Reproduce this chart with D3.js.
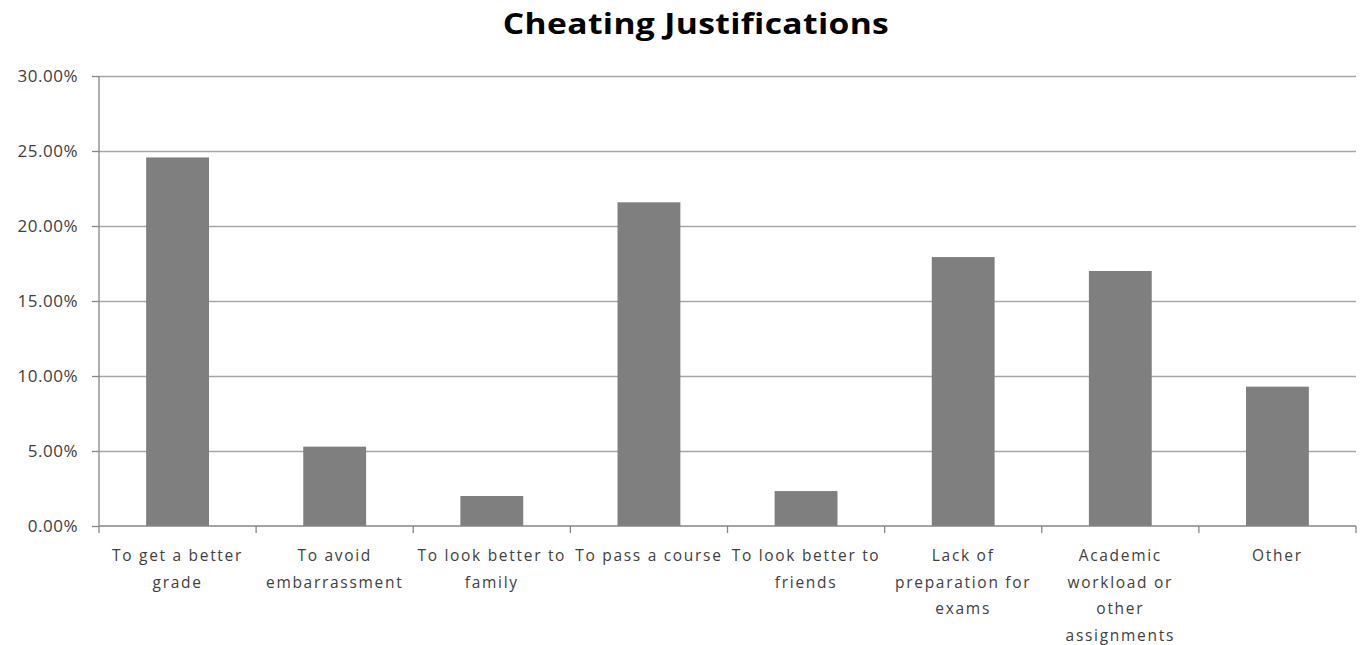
<!DOCTYPE html>
<html>
<head>
<meta charset="utf-8">
<script src="https://cdn.jsdelivr.net/npm/d3@7"></script>
<style>
  html, body { margin: 0; padding: 0; background: #fff; }
  svg { display: block; }
  .tick text { font-family: "Open Sans", sans-serif; }
</style>
</head>
<body>
<div id="chart"></div>
<script>
"use strict";

// ── data ─────────────────────────────────────────────────────────────────────
const categories = [
  "To get a better grade",
  "To avoid embarrassment",
  "To look better to family",
  "To pass a course",
  "To look better to friends",
  "Lack of preparation for exams",
  "Academic workload or other assignments",
  "Other",
];
const labelLines = [
  ["To get a better", "grade"],
  ["To avoid", "embarrassment"],
  ["To look better to", "family"],
  ["To pass a course"],
  ["To look better to", "friends"],
  ["Lack of", "preparation for", "exams"],
  ["Academic", "workload or", "other", "assignments"],
  ["Other"],
];
const values = [24.57, 5.29, 2.0, 21.58, 2.33, 17.93, 17.0, 9.29];
const yTicks = [0, 5, 10, 15, 20, 25, 30];

// ── layout ───────────────────────────────────────────────────────────────────
const W = 1363, H = 645;
const margin = { top: 76, right: 7, bottom: 119, left: 99 };
const iw = W - margin.left - margin.right;
const ih = H - margin.top - margin.bottom;

const svg = d3.select("#chart").append("svg")
  .attr("width", W).attr("height", H);

// title (source image is a bit stretched horizontally)
svg.append("text")
  .attr("transform", "translate(696,34) scale(1.2,1)")
  .attr("text-anchor", "middle")
  .attr("font-family", "'Open Sans', sans-serif")
  .attr("font-weight", 700)
  .attr("font-size", 28)
  .attr("letter-spacing", 0.3)
  .attr("fill", "#000")
  .text("Cheating Justifications");

const g = svg.append("g").attr("transform", `translate(${margin.left},${margin.top})`);

const x = d3.scaleBand().domain(categories).range([0, iw]).paddingInner(0.6).paddingOuter(0.3);
const y = d3.scaleLinear().domain([0, 30]).range([ih, 0]);

// gridlines
g.append("g")
  .call(d3.axisLeft(y).tickValues(yTicks.slice(1)).tickSize(-iw).tickFormat(""))
  .call(gg => {
    gg.select(".domain").remove();
    gg.selectAll("line").attr("stroke", "#a6a6a6").attr("stroke-width", 1.3);
  });

// bars
g.selectAll("rect.bar").data(values).enter().append("rect")
  .attr("class", "bar")
  .attr("x", (d, i) => x(categories[i]))
  .attr("y", d => y(d))
  .attr("width", x.bandwidth())
  .attr("height", d => ih - y(d))
  .attr("fill", "#7f7f7f");

// y axis
g.append("g")
  .call(d3.axisLeft(y).tickValues(yTicks).tickSize(7).tickPadding(14)
    .tickFormat(d => d.toFixed(2) + "%"))
  .call(ax => {
    ax.select(".domain").attr("stroke", "#868686").attr("stroke-width", 1.3)
      .attr("d", `M0,${ih}V0`);
    ax.selectAll(".tick line").attr("stroke", "#868686").attr("stroke-width", 1.3);
    ax.selectAll("text").attr("fill", "#404040").attr("font-size", 17)
      .attr("letter-spacing", 0.5);
  });

// x axis with boundary ticks
const xb = d3.scaleLinear().domain([0, categories.length]).range([0, iw]);
const xAxis = g.append("g").attr("transform", `translate(0,${ih})`);
xAxis.append("line")
  .attr("x1", 0).attr("x2", iw)
  .attr("stroke", "#868686").attr("stroke-width", 1.3);
xAxis.selectAll("line.tk").data(d3.range(categories.length + 1)).enter().append("line")
  .attr("class", "tk")
  .attr("x1", d => xb(d)).attr("x2", d => xb(d))
  .attr("y1", 0).attr("y2", 7)
  .attr("stroke", "#868686").attr("stroke-width", 1.3);

xAxis.selectAll("text.lbl").data(categories).enter().append("text")
  .attr("class", "lbl")
  .attr("x", d => x(d) + x.bandwidth() / 2)
  .attr("y", 35)
  .attr("text-anchor", "middle")
  .attr("font-family", "'Open Sans', sans-serif")
  .attr("font-size", 15.5)
  .attr("letter-spacing", 1.7)
  .attr("fill", "#404040")
  .each(function (d, i) {
    const t = d3.select(this);
    const cx = x(d) + x.bandwidth() / 2;
    labelLines[i].forEach((ln, k) => {
      t.append("tspan").attr("x", cx).attr("dy", k === 0 ? 0 : 26.5).text(ln);
    });
  });
</script>
</body>
</html>
